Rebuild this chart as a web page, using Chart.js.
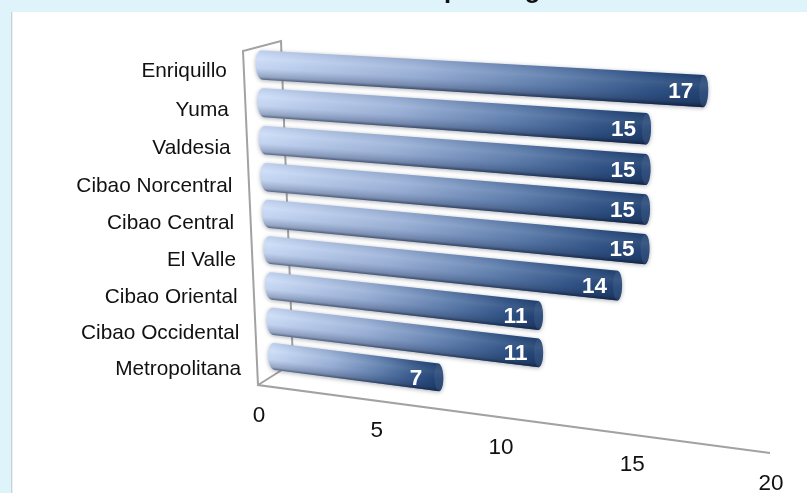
<!DOCTYPE html>
<html>
<head>
<meta charset="utf-8">
<title>Chart</title>
<script src="https://cdn.jsdelivr.net/npm/chart.js@4"></script>
<style>
    html, body { margin: 0; padding: 0; background: #dff3fb; overflow: hidden; }
    canvas { display: block; filter: blur(0.4px); }
</style>
</head>
<body>
<canvas id="regionChart" width="807" height="493"></canvas>
<script>
const regions = ["Enriquillo", "Yuma", "Valdesia", "Cibao Norcentral", "Cibao Central", "El Valle", "Cibao Oriental", "Cibao Occidental", "Metropolitana"];
const counts = [17, 15, 15, 15, 15, 14, 11, 11, 7];
const valueTicks = [0, 5, 10, 15, 20];
const titleText = "por Región";

const FONT = '"Liberation Sans", Arial, sans-serif';

// where the unit square of the plot lands on the page (the 3d view)
const barPlane = [[261, 46], [792, 75], [780, 440], [275, 374]];
const axisStart = [258, 385], axisEnd = [770, 453], axisDepth = 1.115;
const wallFrontTop = [243, 51], wallBackTop = [281, 41], wallBackBottom = [293, 363];
const catLineTop = [226, 51.7], catLineBottom = [242, 387.5], catDepth = 0.953;

function makeProjection(q) {
    const [[x0, y0], [x1, y1], [x2, y2], [x3, y3]] = q;
    const dx1 = x1 - x2, dx2 = x3 - x2, sx = x0 - x1 + x2 - x3;
    const dy1 = y1 - y2, dy2 = y3 - y2, sy = y0 - y1 + y2 - y3;
    const den = dx1 * dy2 - dx2 * dy1;
    const g = (sx * dy2 - dx2 * sy) / den;
    const h = (dx1 * sy - sx * dy1) / den;
    const a = x1 - x0 + g * x1, b = x3 - x0 + h * x3;
    const d = y1 - y0 + g * y1, e = y3 - y0 + h * y3;
    return (u, v) => {
        const w = g * u + h * v + 1;
        return { x: (a * u + b * v + x0) / w, y: (d * u + e * v + y0) / w };
    };
}
const planePoint = makeProjection(barPlane);

function depthFrac(frac, k) {
    return frac / (frac + (1 - frac) * k);
}

function axisPoint(frac) {
    const s = depthFrac(frac, axisDepth);
    return { x: axisStart[0] + s * (axisEnd[0] - axisStart[0]), y: axisStart[1] + s * (axisEnd[1] - axisStart[1]) };
}

function drawBar(ctx, p, area, value) {
    const toPage = (px, py) => planePoint((px - area.left) / area.width, (py - area.top) / area.height);
    const tl = toPage(p.base, p.y - p.height / 2), tr = toPage(p.x, p.y - p.height / 2);
    const bl = toPage(p.base, p.y + p.height / 2), br = toPage(p.x, p.y + p.height / 2);
    const midR = { x: (tr.x + br.x) / 2, y: (tr.y + br.y) / 2 };
    const midL = { x: (tl.x + bl.x) / 2, y: (tl.y + bl.y) / 2 };

    const outline = () => {
        ctx.beginPath();
        ctx.moveTo(tl.x, tl.y);
        ctx.lineTo(tr.x, tr.y);
        ctx.bezierCurveTo(tr.x + 6, tr.y + 2, br.x + 6, br.y - 2, br.x, br.y);
        ctx.lineTo(bl.x, bl.y);
        ctx.bezierCurveTo(bl.x - 8, bl.y - 1, tl.x - 8, tl.y + 1, tl.x, tl.y);
        ctx.closePath();
    };

    const along = ctx.createLinearGradient(tl.x, midL.y, tr.x, midL.y);
    along.addColorStop(0, "#cbdcf8");
    along.addColorStop(0.35, "#9cb2d8");
    along.addColorStop(0.65, "#5f7fae");
    along.addColorStop(0.88, "#2f5285");
    along.addColorStop(1, "#1f4070");

    ctx.save();
    ctx.shadowColor = "rgba(40,50,70,0.4)";
    ctx.shadowBlur = 4;
    ctx.shadowOffsetY = 1;
    outline();
    ctx.fillStyle = along;
    ctx.fill();
    ctx.restore();

    // round shading across the tube
    ctx.save();
    outline();
    ctx.clip();
    const mx = (midL.x + midR.x) / 2;
    const topY = (tl.y + tr.y) / 2, botY = (bl.y + br.y) / 2;
    const slope = (midR.y - midL.y) / (midR.x - midL.x);
    const across = ctx.createLinearGradient(mx, topY, mx - slope * (botY - topY), botY);
    across.addColorStop(0, "rgba(30,50,90,0.1)");
    across.addColorStop(0.3, "rgba(255,255,255,0.08)");
    across.addColorStop(0.6, "rgba(40,60,100,0.05)");
    across.addColorStop(0.88, "rgba(20,35,70,0.3)");
    across.addColorStop(1, "rgba(15,25,45,0.7)");
    ctx.fillStyle = across;
    ctx.fillRect(tl.x - 15, Math.min(tl.y, tr.y) - 5, tr.x - tl.x + 30, Math.max(bl.y, br.y) - Math.min(tl.y, tr.y) + 10);

    // end cap, only a little lighter than the tube
    ctx.beginPath();
    ctx.moveTo(tr.x, tr.y);
    ctx.bezierCurveTo(tr.x - 6, tr.y + 2, br.x - 6, br.y - 2, br.x, br.y);
    ctx.bezierCurveTo(br.x + 6, br.y - 2, tr.x + 6, tr.y + 2, tr.x, tr.y);
    ctx.closePath();
    ctx.fillStyle = "rgba(110,135,175,0.2)";
    ctx.fill();
    ctx.restore();

    ctx.fillStyle = "#ffffff";
    ctx.font = "bold 22.5px " + FONT;
    ctx.textAlign = "center";
    ctx.textBaseline = "middle";
    ctx.fillText(String(value), midR.x - 23, midR.y + 1);
}

const view3d = {
    id: "view3d",
    beforeDraw(chart) {
        const ctx = chart.ctx;
        ctx.save();
        ctx.fillStyle = "#dff3fb";
        ctx.fillRect(0, 0, 807, 493);
        ctx.fillStyle = "#c8d2d8";
        ctx.fillRect(11, 12, 1.5, 481);
        ctx.fillStyle = "#ffffff";
        ctx.fillRect(12.5, 12, 795, 481);

        ctx.fillStyle = "#111111";
        ctx.font = "bold 25.5px " + FONT;
        ctx.textAlign = "left";
        ctx.textBaseline = "alphabetic";
        ctx.fillText(titleText, 444, -2);

        // walls and floor
        ctx.strokeStyle = "#a2a2a2";
        ctx.lineWidth = 2;
        ctx.beginPath();
        ctx.moveTo(wallBackBottom[0], wallBackBottom[1]);
        ctx.lineTo(wallBackTop[0], wallBackTop[1]);
        ctx.lineTo(wallFrontTop[0], wallFrontTop[1]);
        ctx.lineTo(axisStart[0], axisStart[1]);
        ctx.lineTo(axisEnd[0], axisEnd[1]);
        ctx.moveTo(axisStart[0], axisStart[1]);
        ctx.lineTo(wallBackBottom[0], wallBackBottom[1]);
        ctx.stroke();

        // axis text comes from the scales, only placed on the slanted edges
        const xScale = chart.scales.x, yScale = chart.scales.y, area = chart.chartArea;
        ctx.fillStyle = "#111111";
        ctx.font = "22.5px " + FONT;
        ctx.textAlign = "center";
        ctx.textBaseline = "middle";
        xScale.ticks.forEach(t => {
            const frac = (xScale.getPixelForValue(t.value) - area.left) / area.width;
            const pt = axisPoint(frac);
            ctx.fillText(String(t.value), pt.x + 1, pt.y + 30.5);
        });
        ctx.font = "20.8px " + FONT;
        ctx.textAlign = "right";
        yScale.getLabels().forEach((label, i) => {
            const frac = depthFrac((yScale.getPixelForValue(i) - area.top) / area.height, catDepth);
            const x = catLineTop[0] + frac * (catLineBottom[0] - catLineTop[0]);
            const y = catLineTop[1] + frac * (catLineBottom[1] - catLineTop[1]);
            ctx.fillText(label, x, y);
        });
        ctx.restore();
    },
    beforeDatasetDraw(chart, args) {
        const ctx = chart.ctx;
        args.meta.data.forEach((bar, i) => {
            const p = bar.getProps(["x", "y", "base", "height"], true);
            drawBar(ctx, p, chart.chartArea, counts[i]);
        });
        return false; // bars already painted in perspective
    }
};

new Chart(document.getElementById("regionChart"), {
    type: "bar",
    data: {
        labels: regions,
        datasets: [{ data: counts, categoryPercentage: 1, barPercentage: 0.77, backgroundColor: "#1f4070" }]
    },
    options: {
        indexAxis: "y",
        responsive: false,
        animation: false,
        layout: { padding: 0 },
        plugins: { legend: { display: false }, tooltip: { enabled: false } },
        scales: {
            x: { display: false, min: valueTicks[0], max: valueTicks[valueTicks.length - 1], afterBuildTicks(s) { s.ticks = valueTicks.map(v => ({ value: v })); } },
            y: { display: false }
        }
    },
    plugins: [view3d]
});
</script>
</body>
</html>
